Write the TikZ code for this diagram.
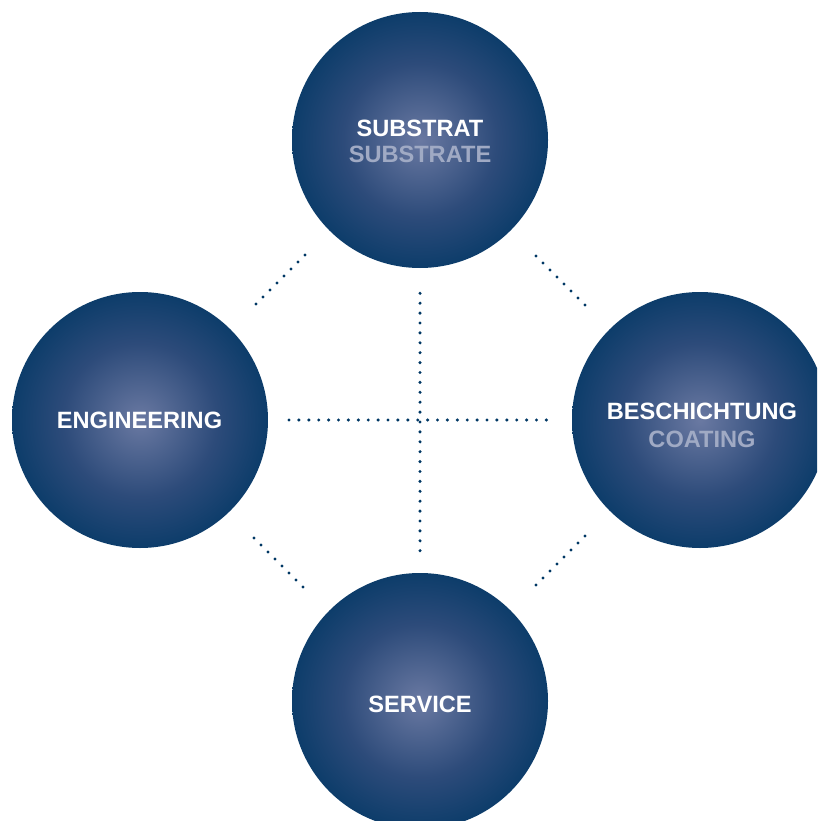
\documentclass[tikz,border=0pt]{standalone}
\usepackage{fontspec}
\setmainfont{Liberation Sans}
\definecolor{navy}{RGB}{0,55,100}
\definecolor{ballmid}{RGB}{45,75,122}
\definecolor{balllight}{RGB}{106,121,162}
\definecolor{subgray}{RGB}{160,170,196}
\pgfdeclareradialshading{ballshade}{\pgfpoint{0bp}{0bp}}{color(0bp)=(balllight); color(15bp)=(ballmid); color(29bp)=(navy); color(50bp)=(navy)}
\tikzset{
  ball/.style={circle, minimum size=256pt, inner sep=0pt, shading=ballshade, draw=none},
  lbl/.style={anchor=base, inner sep=0pt, font=\bfseries\fontsize{23.6}{26}\selectfont, text=white},
  sub/.style={lbl, text=subgray},
  dotline/.style={draw=navy, line width=3.4pt, line cap=round, dash pattern=on 0pt off 9.9pt}
}
\begin{document}
\begin{tikzpicture}[x=1pt,y=-1pt]
\useasboundingbox (0,0) rectangle (817,821);
\begin{scope}
\clip (0,0) rectangle (817,821);
\node[ball] (sub) at (420,140) {};
\node[ball] (eng) at (140,420) {};
\node[ball] (coat) at (700,420) {};
\node[ball] (serv) at (420,701) {};
\end{scope}
\node[lbl] (subA) at (420,137) {SUBSTRAT};
\node[sub] (subB) at (420,163) {SUBSTRATE};
\node[lbl] (engA) at (139.5,428) {ENGINEERING};
\node[lbl] (coatA) at (702,419) {BESCHICHTUNG};
\node[sub] (coatB) at (702,447) {COATING};
\node[lbl] (servA) at (420,712) {SERVICE};
\coordinate (h1) at (289,420);
\coordinate (h2) at (547.2,420);
\coordinate (v1) at (420,293.3);
\coordinate (v2) at (420,551.2);
\draw[dotline] (h1) -- (h2);
\draw[dotline] (v1) -- (v2);
\coordinate (tl1) at (256,304); \coordinate (tl2) at (305.7,254.3);
\coordinate (tr1) at (536,256); \coordinate (tr2) at (585.7,305.7);
\coordinate (bl1) at (254,538); \coordinate (bl2) at (303.7,587.7);
\coordinate (br1) at (536,585); \coordinate (br2) at (585.7,535.3);
\draw[dotline] (tl1) -- (tl2);
\draw[dotline] (tr1) -- (tr2);
\draw[dotline] (bl1) -- (bl2);
\draw[dotline] (br1) -- (br2);
\end{tikzpicture}
\end{document}
